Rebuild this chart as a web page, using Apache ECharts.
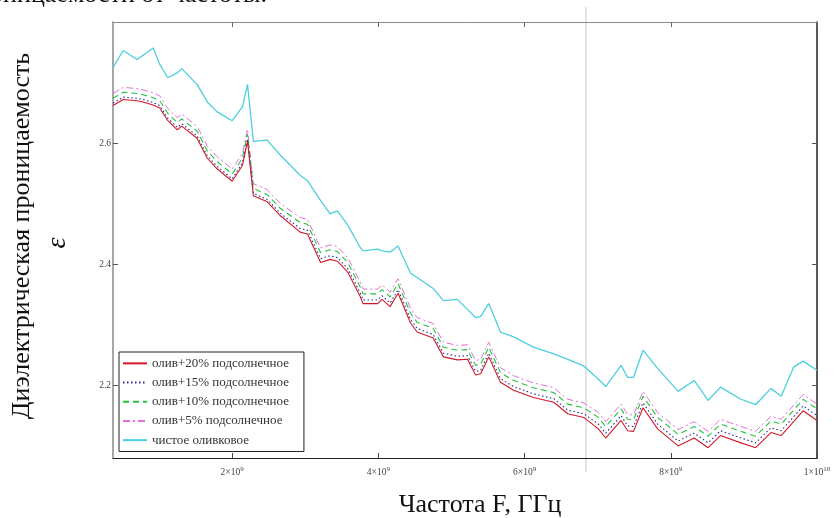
<!DOCTYPE html>
<html>
<head>
<meta charset="utf-8">
<script src="https://cdn.jsdelivr.net/npm/echarts@6/dist/echarts.min.js"></script>
<style>
  html, body { margin: 0; padding: 0; background: #fff; }
  #chart { width: 834px; height: 518px; }
</style>
</head>
<body>
<div id="chart"></div>
<script>
// частота, ГГц
var freqGHz = [0.37,0.51,0.70,0.78,0.92,1.01,1.12,1.25,1.31,1.52,1.66,1.79,2.00,2.14,2.21,2.29,2.48,2.66,2.93,3.03,3.21,3.34,3.44,3.58,3.75,3.79,3.99,4.05,4.16,4.27,4.44,4.53,4.75,4.89,5.08,5.22,5.33,5.40,5.51,5.67,5.85,6.12,6.40,6.59,6.81,7.01,7.11,7.32,7.41,7.49,7.62,7.82,8.10,8.32,8.51,8.68,8.96,9.16,9.37,9.51,9.68,9.81,10.0];

// олив+20% подсолнечное
var oliv20 = [2.662,2.672,2.670,2.668,2.663,2.658,2.637,2.622,2.628,2.608,2.575,2.558,2.537,2.563,2.603,2.513,2.503,2.480,
  2.453,2.450,2.403,2.408,2.405,2.387,2.347,2.335,2.335,2.342,2.330,2.352,2.303,2.288,2.278,2.247,2.242,2.243,2.217,2.219,2.247,2.205,2.192,2.180,2.172,2.153,2.147,
  2.128,2.113,2.142,2.125,2.124,2.163,2.128,2.100,2.113,2.097,2.117,2.105,2.097,2.122,2.117,2.140,2.158,2.142];
// олив+15% подсолнечное
var oliv15 = [2.666,2.676,2.674,2.672,2.667,2.662,2.641,2.626,2.632,2.612,2.579,2.562,2.541,2.567,2.607,2.517,2.507,2.484,
  2.459,2.456,2.409,2.414,2.411,2.393,2.353,2.341,2.341,2.348,2.336,2.358,2.309,2.294,2.284,2.253,2.248,2.249,2.223,2.225,2.253,2.211,2.198,2.186,2.178,2.159,2.153,
  2.136,2.121,2.150,2.133,2.132,2.171,2.136,2.108,2.121,2.105,2.125,2.113,2.105,2.130,2.125,2.148,2.166,2.150];
// олив+10% подсолнечное
var oliv10 = [2.674,2.684,2.682,2.680,2.675,2.670,2.649,2.634,2.640,2.620,2.587,2.570,2.549,2.575,2.615,2.525,2.515,2.492,
  2.469,2.466,2.419,2.424,2.421,2.403,2.363,2.351,2.351,2.358,2.346,2.368,2.319,2.304,2.294,2.263,2.258,2.259,2.233,2.235,2.263,2.221,2.208,2.196,2.188,2.169,2.163,
  2.147,2.132,2.161,2.144,2.143,2.182,2.147,2.119,2.132,2.116,2.136,2.124,2.116,2.141,2.136,2.159,2.177,2.161];
// олив+5% подсолнечное
var oliv5 = [2.682,2.692,2.690,2.688,2.683,2.678,2.657,2.642,2.648,2.628,2.595,2.578,2.557,2.583,2.623,2.533,2.523,2.500,
  2.477,2.474,2.427,2.432,2.429,2.411,2.371,2.359,2.359,2.366,2.354,2.376,2.327,2.312,2.302,2.271,2.266,2.267,2.241,2.243,2.271,2.229,2.216,2.204,2.196,2.177,2.171,
  2.155,2.140,2.169,2.152,2.151,2.190,2.155,2.127,2.140,2.124,2.144,2.132,2.124,2.149,2.144,2.167,2.185,2.169];
// чистое оливковое
var olivPure = [2.725,2.753,2.738,2.745,2.757,2.730,2.708,2.716,2.723,2.697,2.668,2.652,2.637,2.660,2.697,2.603,2.605,2.580,
  2.547,2.538,2.505,2.483,2.488,2.465,2.428,2.422,2.425,2.422,2.420,2.430,2.385,2.378,2.360,2.340,2.342,2.325,2.312,2.314,2.335,2.288,2.280,2.263,2.252,2.243,2.232,
  2.210,2.198,2.233,2.213,2.213,2.258,2.228,2.190,2.208,2.175,2.197,2.177,2.168,2.195,2.182,2.230,2.240,2.225];

var seriesNames = ['олив+20% подсолнечное', 'олив+15% подсолнечное', 'олив+10% подсолнечное', 'олив+5% подсолнечное', 'чистое оливковое'];
var xTicks = [2e9, 4e9, 6e9, 8e9, 1e10];
var yTicks = [2.2, 2.4, 2.6];

var serif = '"Liberation Serif", "DejaVu Serif", serif';

function pairs(vals) {
  var res = [];
  for (var i = 0; i < vals.length; i++) {
    res.push([freqGHz[i] * 1e9, vals[i]]);
  }
  return res;
}

// подпись вида 2×10^9
function sciLabel(v) {
  var e = Math.floor(Math.log10(v) + 1e-9);
  var m = Math.round(v / Math.pow(10, e));
  return '{m|' + m + '×10}{s|' + e + '}';
}

var myChart = echarts.init(document.getElementById('chart'));

var lineDefs = [
  { data: oliv20, color: '#d01a2a', type: 'solid', width: 1.1 },
  { data: oliv15, color: '#2a2a90', type: [1.5, 2.5], width: 1.1 },
  { data: oliv10, color: '#22c440', type: [6, 4], width: 1.1 },
  { data: oliv5, color: '#e070d8', type: [7, 3, 2, 3], width: 1 },
  { data: olivPure, color: '#4ccfdf', type: 'solid', width: 1.3 }
];

var mySeries = [];
lineDefs.forEach(function (d, i) {
  mySeries.push({
    name: seriesNames[i],
    type: 'line',
    symbol: 'none',
    animation: false,
    data: pairs(d.data),
    lineStyle: { color: d.color, width: d.width, type: d.type },
    itemStyle: { color: d.color },
    z: 5 - i
  });
});

var option = {
  backgroundColor: '#fff',
  animation: false,
  grid: { left: 113, right: 17, top: 22, bottom: 60 },
  legend: {
    orient: 'vertical',
    left: 119,
    top: 352,
    data: seriesNames,
    backgroundColor: '#fff',
    borderColor: '#222',
    borderWidth: 1,
    padding: [4, 15, 4, 3],
    itemWidth: 24,
    itemHeight: 8,
    itemGap: 4.5,
    itemStyle: { opacity: 0 },
    textStyle: { fontFamily: serif, fontSize: 13, lineHeight: 14.7, color: '#333' }
  },
  xAxis: [{
    type: 'value',
    min: 0.37e9,
    max: 1e10,
    axisLine: { show: true, lineStyle: { color: '#222', width: 1 } },
    axisTick: { show: true, inside: true, length: 5, customValues: xTicks, lineStyle: { color: '#444' } },
    axisLabel: {
      customValues: xTicks,
      formatter: sciLabel,
      margin: 8,
      rich: {
        m: { fontFamily: serif, fontSize: 9.5, color: '#444' },
        s: { fontFamily: serif, fontSize: 7, color: '#444', verticalAlign: 'top', padding: [0, 0, 6, 0] }
      }
    },
    splitLine: { show: false }
  }, {
    type: 'value',
    position: 'top',
    min: 0.37e9,
    max: 1e10,
    axisLine: { show: true, lineStyle: { color: '#8a8a8a', width: 1 } },
    axisTick: { show: true, inside: true, length: 5, customValues: xTicks, lineStyle: { color: '#666' } },
    axisLabel: { show: false },
    splitLine: { show: false }
  }],
  yAxis: [{
    type: 'value',
    min: 2.08,
    max: 2.8,
    axisLine: { show: true, lineStyle: { color: '#8a8a8a', width: 1.5 } },
    axisTick: { show: true, inside: true, length: 5, customValues: yTicks, lineStyle: { color: '#555' } },
    axisLabel: {
      customValues: yTicks,
      formatter: function (v) { return v.toFixed(1); },
      fontFamily: serif, fontSize: 9.5, color: '#444', margin: 2
    },
    splitLine: { show: false }
  }, {
    type: 'value',
    position: 'right',
    min: 2.08,
    max: 2.8,
    axisLine: { show: true, lineStyle: { color: '#222', width: 1.5 } },
    axisTick: { show: true, inside: true, length: 5, customValues: yTicks, lineStyle: { color: '#555' } },
    axisLabel: { show: false },
    splitLine: { show: false }
  }],
  graphic: [
    {
      type: 'text', x: 267, y: 8,
      style: { text: 'проницаемости от частоты.', font: '26px ' + serif, fill: '#111', align: 'right', verticalAlign: 'bottom' }
    },
    {
      type: 'line', silent: true,
      shape: { x1: 586, y1: 7, x2: 586, y2: 472 },
      style: { stroke: '#c8c8c8', lineWidth: 1 }
    },
    {
      type: 'text', x: 22, y: 236, rotation: Math.PI / 2,
      style: { text: 'Диэлектрическая проницаемость', font: '26px ' + serif, fill: '#111', align: 'center', verticalAlign: 'middle' }
    },
    {
      type: 'text', x: 58, y: 243, rotation: Math.PI / 2,
      style: { text: 'ε', font: 'italic 28px ' + serif, fill: '#111', align: 'center', verticalAlign: 'middle' }
    },
    {
      type: 'text', x: 480, y: 505,
      style: { text: 'Частота F, ГГц', font: '26px ' + serif, fill: '#111', align: 'center', verticalAlign: 'middle' }
    }
  ],
  series: mySeries
};

myChart.setOption(option);
</script>
</body>
</html>
